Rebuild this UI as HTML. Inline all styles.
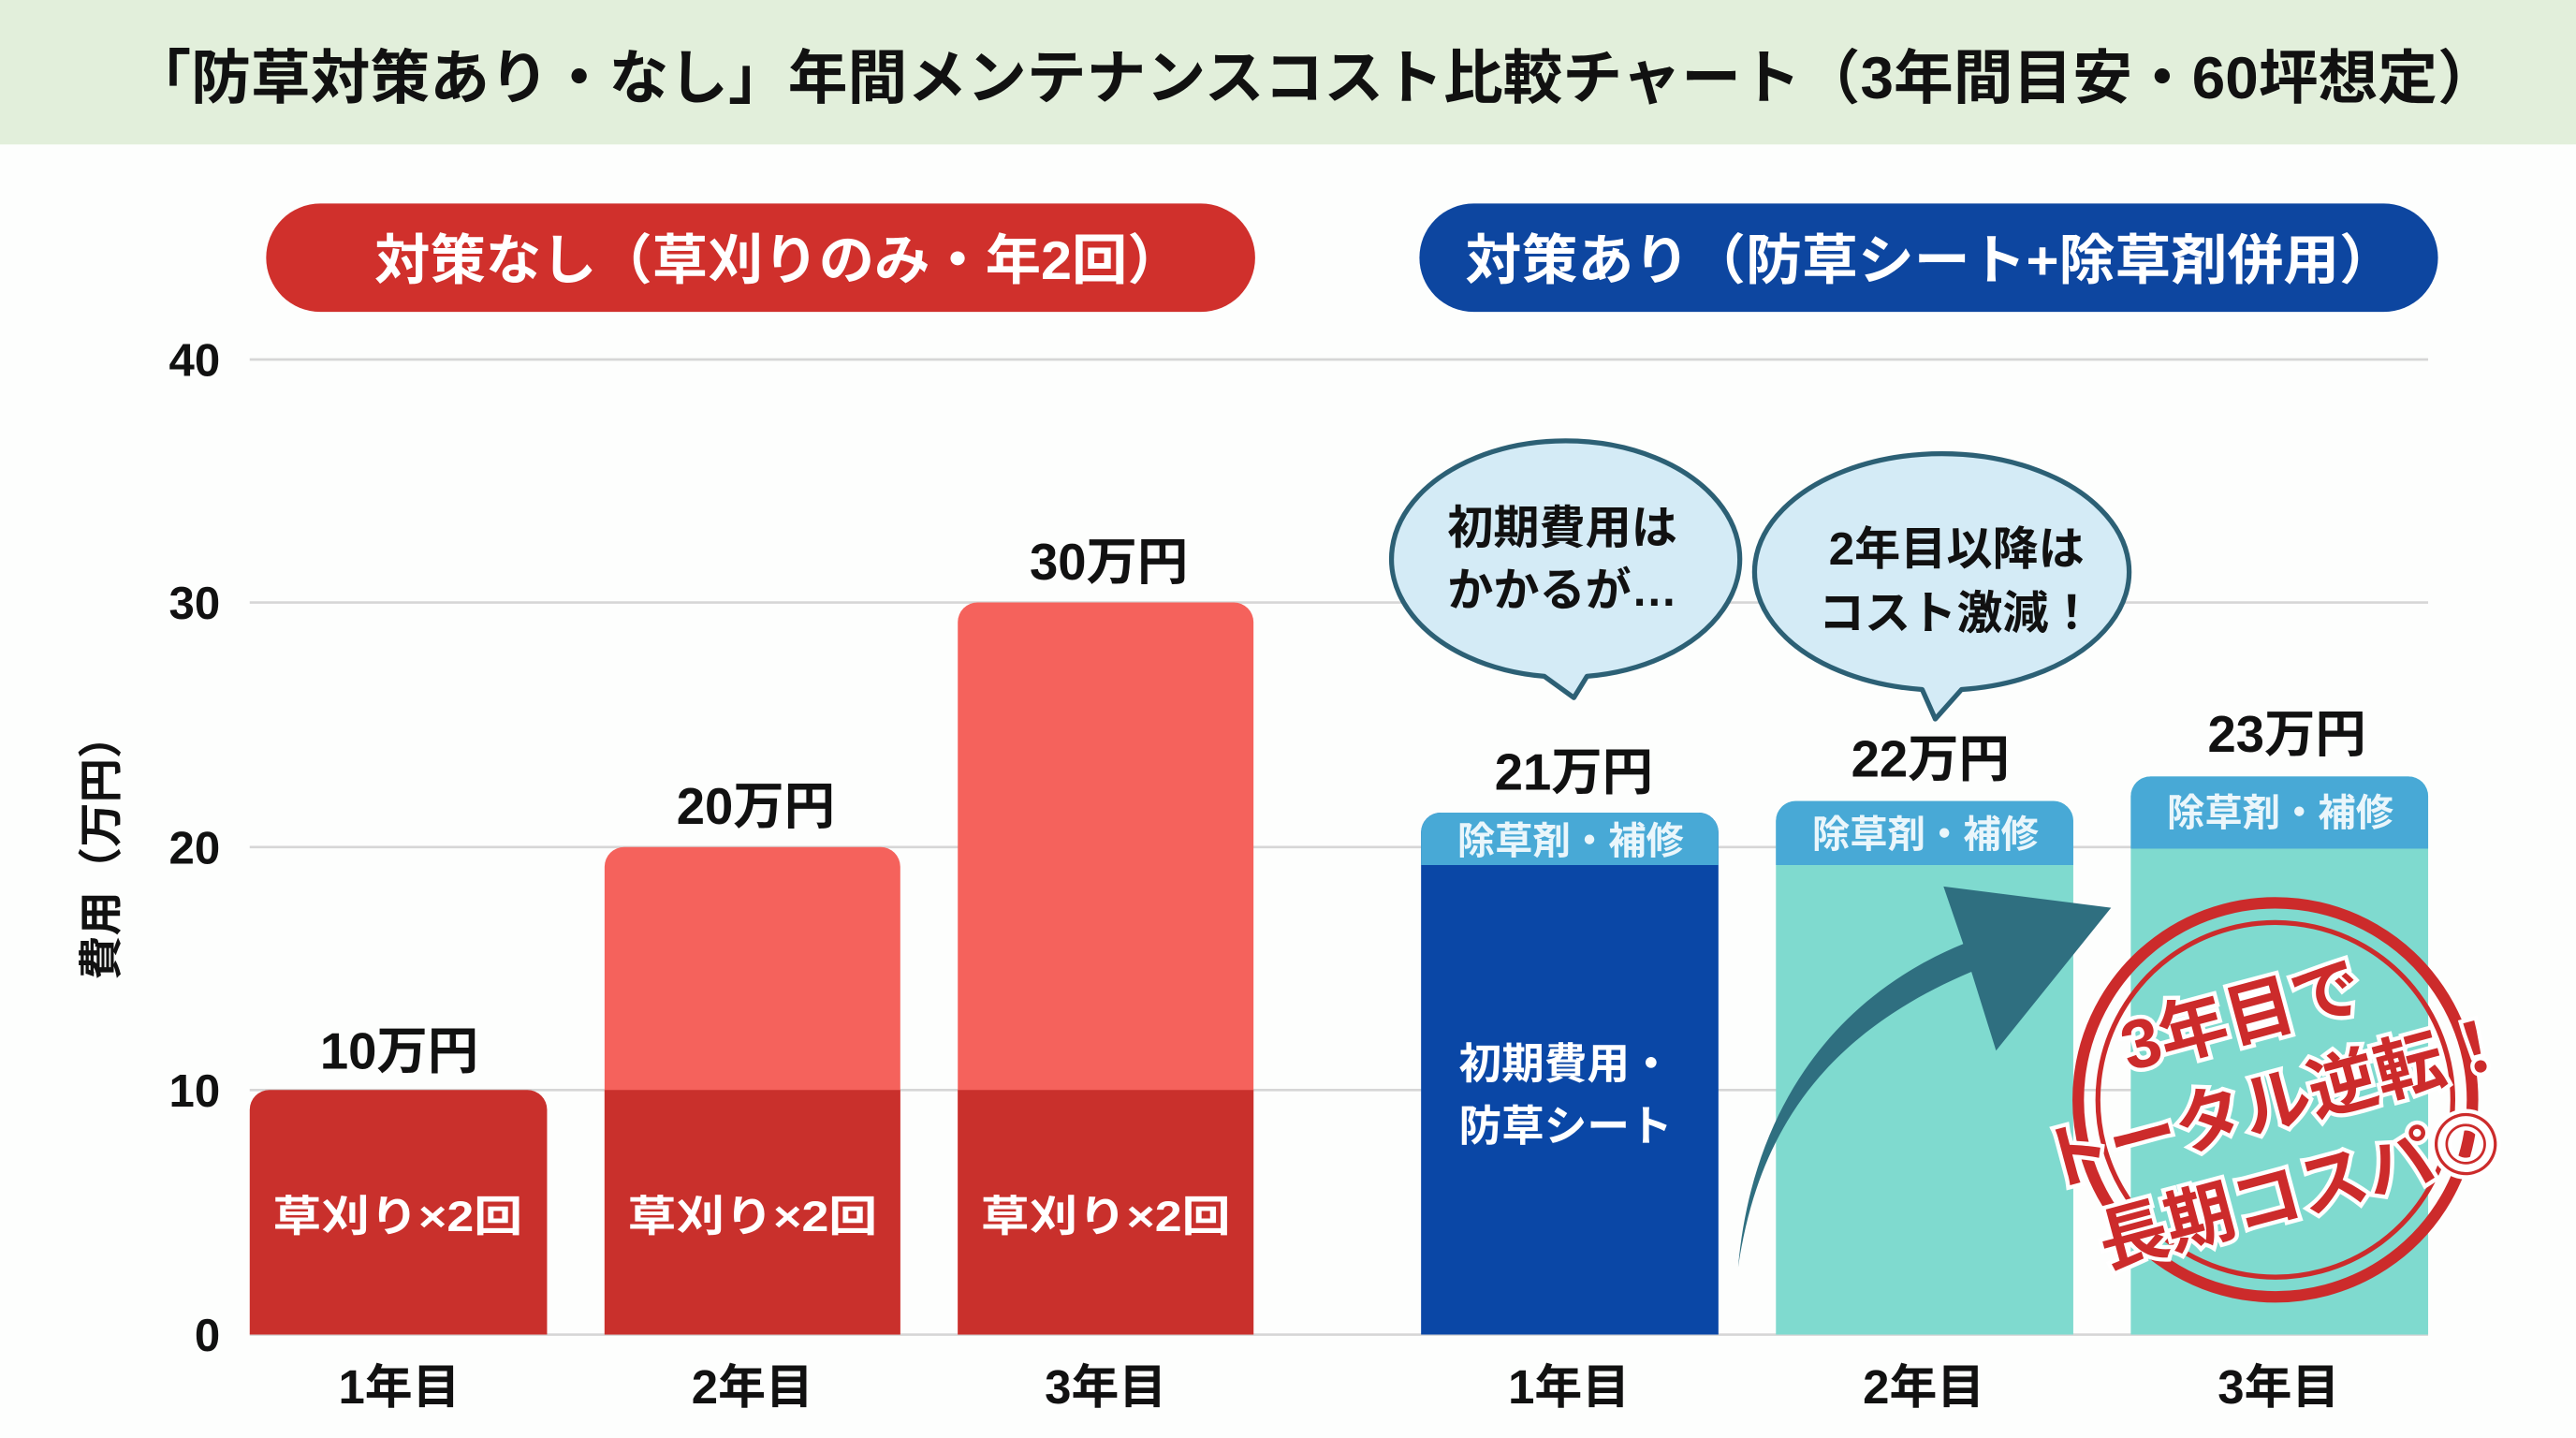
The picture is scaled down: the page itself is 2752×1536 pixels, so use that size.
<!DOCTYPE html>
<html><head><meta charset="utf-8"><style>
html,body{margin:0;padding:0;background:#fff;}
svg{display:block;}
text{font-family:"Liberation Sans","Noto Sans CJK JP",sans-serif;font-weight:bold;}
</style></head><body>
<svg width="2752" height="1536" viewBox="0 0 1568 876" preserveAspectRatio="none" xmlns="http://www.w3.org/2000/svg">
<rect x="0" y="0" width="1568" height="876" fill="#fdfefd"/>
<rect x="0" y="0" width="1568" height="88" fill="#e2efdb"/>
<text x="80" y="60" font-size="36" fill="#111" textLength="1440" lengthAdjust="spacingAndGlyphs">「防草対策あり・なし」年間メンテナンスコスト比較チャート（3年間目安・60坪想定）</text>

<rect x="162" y="124" width="602" height="66" rx="33" fill="#d0302c"/>
<text x="228" y="170" font-size="33" fill="#fff" textLength="492" lengthAdjust="spacingAndGlyphs">対策なし（草刈りのみ・年2回）</text>
<rect x="864" y="124" width="620" height="66" rx="33" fill="#0d46a0"/>
<text x="892" y="170" font-size="33" fill="#fff" textLength="566" lengthAdjust="spacingAndGlyphs">対策あり（防草シート+除草剤併用）</text>

<g stroke="#d6d6d6" stroke-width="1.5">
<line x1="152" y1="219" x2="1478" y2="219"/>
<line x1="152" y1="367" x2="1478" y2="367"/>
<line x1="152" y1="516" x2="1478" y2="516"/>
<line x1="152" y1="664" x2="1478" y2="664"/>
<line x1="152" y1="813" x2="1478" y2="813"/>
</g>
<g font-size="28" fill="#111" text-anchor="end">
<text x="134" y="229">40</text><text x="134" y="377">30</text><text x="134" y="526">20</text><text x="134" y="674">10</text><text x="134" y="823">0</text>
</g>
<text x="0" y="0" font-size="27" fill="#111" text-anchor="middle" transform="translate(71,516) rotate(-90)">費用（万円）</text>

<path d="M152,813 V676 a12,12 0 0 1 12,-12 H321 a12,12 0 0 1 12,12 V813 Z" fill="#c9302c"/>
<path d="M368,813 V528 a12,12 0 0 1 12,-12 H536 a12,12 0 0 1 12,12 V813 Z" fill="#f5625c"/>
<rect x="368" y="664" width="180" height="149" fill="#c9302c"/>
<path d="M583,813 V379 a12,12 0 0 1 12,-12 H751 a12,12 0 0 1 12,12 V813 Z" fill="#f5625c"/>
<rect x="583" y="664" width="180" height="149" fill="#c9302c"/>
<g font-size="31" fill="#111" text-anchor="middle">
<text x="243" y="651">10万円</text><text x="460" y="502">20万円</text><text x="675" y="353">30万円</text>
<text x="958" y="481">21万円</text><text x="1175" y="473">22万円</text><text x="1392" y="458">23万円</text>
</g>
<g font-size="26" fill="#fff">
<text x="166" y="750" textLength="152" lengthAdjust="spacingAndGlyphs">草刈り×2回</text>
<text x="382" y="750" textLength="152" lengthAdjust="spacingAndGlyphs">草刈り×2回</text>
<text x="597" y="750" textLength="152" lengthAdjust="spacingAndGlyphs">草刈り×2回</text>
</g>

<path d="M865,813 V507 a12,12 0 0 1 12,-12 H1034 a12,12 0 0 1 12,12 V813 Z" fill="#0a47a6"/>
<path d="M865,527 V507 a12,12 0 0 1 12,-12 H1034 a12,12 0 0 1 12,12 V527 Z" fill="#48a9d6"/>
<path d="M1081,813 V500 a12,12 0 0 1 12,-12 H1250 a12,12 0 0 1 12,12 V813 Z" fill="#7fdacf"/>
<path d="M1081,527 V500 a12,12 0 0 1 12,-12 H1250 a12,12 0 0 1 12,12 V527 Z" fill="#48a9d6"/>
<path d="M1297,813 V485 a12,12 0 0 1 12,-12 H1466 a12,12 0 0 1 12,12 V813 Z" fill="#7fdacf"/>
<path d="M1297,517 V485 a12,12 0 0 1 12,-12 H1466 a12,12 0 0 1 12,12 V517 Z" fill="#48a9d6"/>
<g font-size="23" fill="#eaf6fb" text-anchor="middle">
<text x="956" y="520">除草剤・補修</text><text x="1172" y="516">除草剤・補修</text><text x="1388" y="503">除草剤・補修</text>
</g>
<g font-size="26" fill="#fff">
<text x="888" y="657">初期費用・</text><text x="888" y="695">防草シート</text>
</g>

<g font-size="29" fill="#111" text-anchor="middle">
<text x="243" y="855">1年目</text><text x="458" y="855">2年目</text><text x="673" y="855">3年目</text>
<text x="955" y="855">1年目</text><text x="1171" y="855">2年目</text><text x="1387" y="855">3年目</text>
</g>

<path d="M940,412 A106,72 0 1 1 966,412 L958,425 Z" fill="#d4ebf6" stroke="#2c6075" stroke-width="3" stroke-linejoin="round"/>
<g font-size="28" fill="#111" text-anchor="middle"><text x="951" y="331">初期費用は</text><text x="951" y="369">かかるが…</text></g>
<path d="M1170,420 A114,72 0 1 1 1194,420 L1178,438 Z" fill="#d4ebf6" stroke="#2c6075" stroke-width="3" stroke-linejoin="round"/>
<g font-size="28" fill="#111" text-anchor="middle"><text x="1191" y="344">2年目以降は</text><text x="1191" y="383">コスト激減！</text></g>

<path d="M1058,772 C1070,690 1110,630 1200,592 L1215,640 L1285,553 L1183,540 L1195,575 C1105,612 1065,690 1058,772 Z" fill="#2f6f80"/>

<g transform="rotate(-15 1385 670)">
<circle cx="1385" cy="670" r="120" fill="none" stroke="#cc2b2b" stroke-width="7"/>
<circle cx="1385" cy="670" r="108" fill="none" stroke="#cc2b2b" stroke-width="3"/>
<g font-size="42" fill="#cc2b2b" stroke="#fff" stroke-width="5" paint-order="stroke" text-anchor="middle">
<text x="1378" y="630">3年目で</text><text x="1385" y="686">トータル逆転！</text><text x="1385" y="742">長期コスパ◎</text>
</g>
</g>
</svg>
</body></html>
